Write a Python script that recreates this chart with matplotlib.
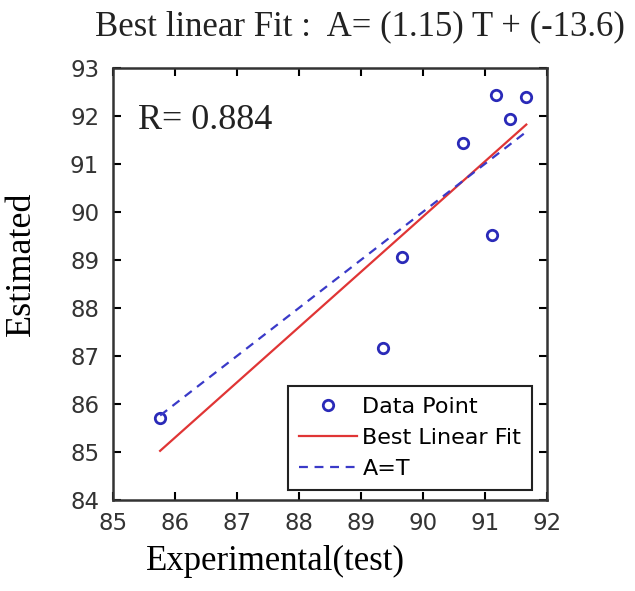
import numpy as np
import matplotlib
matplotlib.use("Agg")
import matplotlib.pyplot as plt

# data
experimental = [85.76, 89.35, 89.66, 91.12, 90.65, 91.18, 91.40, 91.67]
estimated = [85.70, 87.16, 89.06, 89.51, 91.44, 92.44, 91.94, 92.40]
slope = 1.15
intercept = -13.6
r_value = 0.884
x_ticks = [85, 86, 87, 88, 89, 90, 91, 92]
y_ticks = [84, 85, 86, 87, 88, 89, 90, 91, 92, 93]

serif = "Liberation Serif"
sans = "DejaVu Sans"

fig = plt.figure(figsize=(6.35, 5.91), dpi=100)
ax = fig.add_axes([0.178, 0.154, 0.683, 0.731])

t_line = np.array([min(experimental), max(experimental)])
ax.plot(experimental, estimated, "o", mfc="none", mec="#2a2ab8", mew=2,
        ms=7.5, label="Data Point")
ax.plot(t_line, slope * t_line + intercept, "-", color="#e03535", lw=1.6,
        label="Best Linear Fit")
ax.plot(t_line, t_line, "--", color="#3a3ac8", lw=1.6, dashes=(4, 3),
        label="A=T")

ax.set_xlim(85, 92)
ax.set_ylim(84, 93)
ax.set_xticks(x_ticks)
ax.set_yticks(y_ticks)
ax.tick_params(direction="in", top=True, right=True, length=6, width=1.5,
               labelsize=16.5)
ax.tick_params(axis="x", pad=9)
ax.tick_params(axis="y", pad=10)
for lab in ax.get_xticklabels() + ax.get_yticklabels():
    lab.set_fontfamily(sans)
    lab.set_color("#333333")
for s in ax.spines.values():
    s.set_linewidth(1.8)
    s.set_color("#333333")

ax.set_xlabel("Experimental(test)", fontfamily=serif, fontsize=25)
ax.xaxis.set_label_coords(0.375, -0.105)
ax.set_ylabel("Estimated", fontfamily=serif, fontsize=26)
ax.yaxis.set_label_coords(-0.172, 0.546)
ax.text(0.057, 0.878, f"R= {r_value}", transform=ax.transAxes,
        fontfamily=serif, fontsize=26, va="center", color="#222222")

fig.text(0.567, 0.955, f"Best linear Fit :  A= ({slope}) T + ({intercept})",
         fontfamily=serif, fontsize=25, ha="center", va="center",
         color="#222222")

leg = ax.legend(loc="lower right", bbox_to_anchor=(0.967, 0.023),
                borderaxespad=0, fancybox=False, handlelength=2.6,
                handletextpad=0.25, prop={"family": sans, "size": 16},
                labelspacing=0.5, borderpad=0.5, framealpha=1)
leg.get_frame().set_edgecolor("#222222")
leg.get_frame().set_linewidth(1.5)

fig.savefig("out.png", dpi=100)
